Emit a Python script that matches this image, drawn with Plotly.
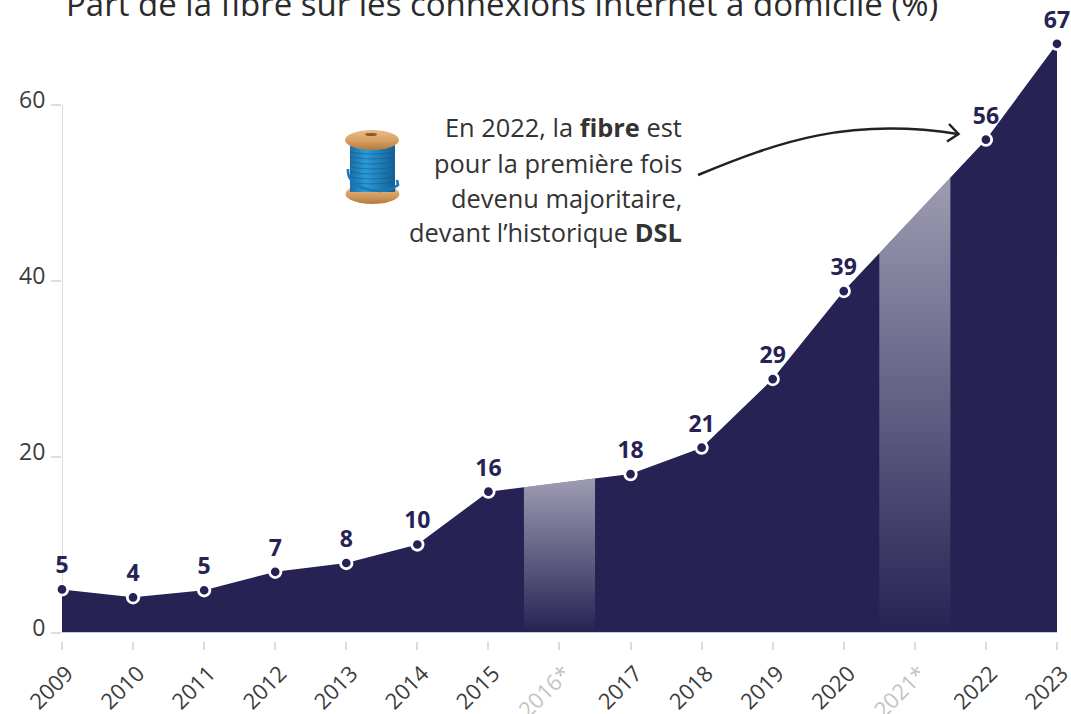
import base64
import numpy as np
import plotly.graph_objects as go

# Data
years = [2009, 2010, 2011, 2012, 2013, 2014, 2015, 2017, 2018, 2019, 2020, 2022, 2023]
fibre_share = [4.9, 4.0, 4.8, 6.9, 7.9, 10.0, 16.0, 18.0, 21.0, 28.8, 38.8, 56.0, 66.9]
value_labels = ["5", "4", "5", "7", "8", "10", "16", "18", "21", "29", "39", "56", "67"]
tick_years = list(range(2009, 2024))
missing_years = [2016, 2021]
tick_labels = [
    f'<span style="color:#c4c4c4">{y}*</span>' if y in missing_years else str(y)
    for y in tick_years
]
y_ticks = [0, 20, 40, 60]
title_text = "Part de la fibre sur les connexions internet à domicile (%)"
note_lines = [
    "En 2022, la <b>fibre</b> est",
    "pour la première fois",
    "devenu majoritaire,",
    "devant l’historique <b>DSL</b>",
]

NAVY = "#262354"
W, H = 1071, 714
ML, MR, MT, MB = 62, 0, 16, 73
PW, PH = W - ML - MR, H - MT - MB
ZERO_PX = 632.5
UNIT = 8.8
YEAR_PX = 71.07


def px(x, y):
    return (x - ML) / PW, (H - MB - y) / PH


def P(x, y):
    a, b = px(x, y)
    return f"{a:.5f} {b:.5f}"


fig = go.Figure()

fig.add_trace(go.Scatter(
    x=years, y=fibre_share, mode="lines", fill="tozeroy",
    fillcolor=NAVY, line=dict(width=0), hoverinfo="skip", showlegend=False,
))

for yr in missing_years:
    bx = [yr - 0.5, yr + 0.5]
    by = list(np.interp(bx, years, fibre_share))
    fig.add_trace(go.Scatter(
        x=bx, y=by, mode="lines", fill="tozeroy", line=dict(width=0),
        fillgradient=dict(
            type="vertical",
            colorscale=[[0, "rgba(255,255,255,0)"], [1, "rgba(255,255,255,0.55)"]],
        ),
        hoverinfo="skip", showlegend=False,
    ))

# value labels (invisible larger marker only sets the text's distance from the point)
fig.add_trace(go.Scatter(
    x=years, y=fibre_share, mode="markers+text", text=value_labels,
    textposition="top center",
    textfont=dict(family="Open Sans", size=23, color=NAVY, weight=700),
    marker=dict(size=15, color="rgba(0,0,0,0)", line=dict(width=0)),
    cliponaxis=False, showlegend=False, hoverinfo="skip",
))
fig.add_trace(go.Scatter(
    x=years, y=fibre_share, mode="markers",
    marker=dict(size=11.5, color=NAVY, line=dict(color="white", width=2.8)),
    cliponaxis=False, showlegend=False,
))

# y axis line only runs up to 60
fig.add_shape(type="line", xref="x", yref="y", x0=2009, x1=2009, y0=0, y1=60,
              line=dict(color="#dcdcdc", width=2), layer="below")

# Curved arrow
fig.add_shape(type="path", xref="paper", yref="paper",
              path=f"M {P(698,175)} C {P(780,141)} {P(850,117)} {P(958,134)}",
              line=dict(color="#222222", width=2.5))
fig.add_shape(type="path", xref="paper", yref="paper",
              path=f"M {P(949,124)} L {P(958.5,134)} L {P(947,141.5)}",
              line=dict(color="#222222", width=2.5))

# Note text
for line, cy in zip(note_lines, [127, 163, 198, 232]):
    a, b = px(683.5, cy)
    fig.add_annotation(xref="paper", yref="paper", x=a, y=b, text=line, showarrow=False,
                       xanchor="right", yanchor="middle", xshift=0,
                       font=dict(family="Open Sans", size=25.4, color="#333333"), align="right")

# Title
a, b = px(502, 4)
fig.add_annotation(xref="paper", yref="paper", x=a, y=b, text=title_text, showarrow=False,
                   xanchor="center", yanchor="middle",
                   font=dict(family="Open Sans", size=33, color="#2b2b2b"))

# Spool of thread (decorative picture)
spool_svg = """<svg xmlns="http://www.w3.org/2000/svg" viewBox="0 0 55 75">
<defs>
<linearGradient id="w" x1="0" x2="0" y1="0" y2="1"><stop offset="0" stop-color="#e8bd8a"/><stop offset="0.5" stop-color="#d9a366"/><stop offset="1" stop-color="#b4793f"/></linearGradient>
<linearGradient id="t" x1="0" x2="1" y1="0" y2="0"><stop offset="0" stop-color="#1a6ea8"/><stop offset="0.35" stop-color="#2b9ad6"/><stop offset="1" stop-color="#146096"/></linearGradient>
</defs>
<ellipse cx="27.5" cy="64" rx="27" ry="10" fill="url(#w)"/>
<rect x="5" y="10" width="45" height="52" fill="url(#t)"/>
<g stroke="#125a8c" stroke-width="0.8" opacity="0.7" fill="none">
<path d="M5 22 Q27 26 50 22M5 27 Q27 31 50 27M5 32 Q27 36 50 32M5 37 Q27 41 50 37M5 42 Q27 46 50 42M5 47 Q27 51 50 47M5 52 Q27 56 50 52"/>
</g>
<path d="M3 39 Q2 52 18 58 Q40 65 53 55 L52 50" stroke="#1a78b5" stroke-width="2.6" fill="none"/>
<ellipse cx="27" cy="10" rx="27" ry="10" fill="url(#w)"/>
<ellipse cx="26" cy="4.5" rx="6" ry="1.6" fill="#8a5a2b"/>
</svg>"""
sx, sy = px(345, 130)
fig.add_layout_image(
    source="data:image/svg+xml;base64," + base64.b64encode(spool_svg.encode()).decode(),
    xref="paper", yref="paper", x=sx, y=sy, sizex=55 / PW, sizey=75 / PH,
    xanchor="left", yanchor="top", sizing="stretch", layer="above",
)

fig.update_layout(
    width=W, height=H,
    margin=dict(l=ML, r=MR, t=MT, b=MB, pad=0, autoexpand=False),
    paper_bgcolor="white", plot_bgcolor="white",
    font=dict(family="Open Sans", color="#444444"),
    showlegend=False,
    xaxis=dict(
        range=[2009, 2009 + PW / YEAR_PX], tickmode="array", tickvals=tick_years, ticktext=tick_labels,
        tickangle=-45, ticks="outside", ticklen=8, tickwidth=2, tickcolor="#dcdcdc",
        tickfont=dict(size=22, color="#3c3c3c", family="Open Sans"),
        showgrid=False, zeroline=False, showline=False,
        anchor="free", position=0, ticklabelstandoff=2, ticklabelshift=5,
        ticklabeloverflow="allow",
    ),
    yaxis=dict(
        domain=[(H - MB - ZERO_PX) / PH, 1],
        range=[0, (ZERO_PX - MT) / UNIT],
        tickvals=y_ticks, ticks="outside", ticklen=10, tickwidth=2, tickcolor="#dcdcdc",
        tickfont=dict(size=23, color="#3c3c3c", family="Open Sans"),
        showgrid=False, zeroline=False, showline=False,
        ticklabelshift=-5, ticklabelstandoff=1,
    ),
)

fig.write_html("out.html", config={"displayModeBar": False},
               post_script="document.body.style.margin='0';document.body.style.overflow='hidden';")
